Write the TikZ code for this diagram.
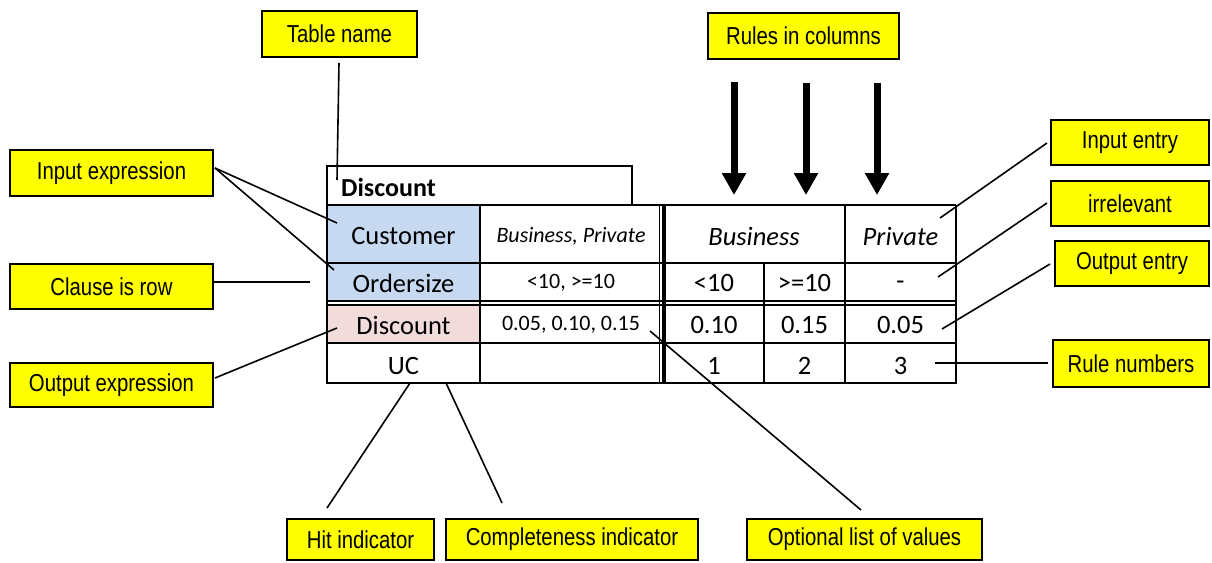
\documentclass[tikz,border=0pt]{standalone}
\usepackage{fontspec}
\setmainfont{Carlito}
\newfontfamily\narrowfont[FakeStretch=0.83]{Liberation Sans}
\usetikzlibrary{arrows.meta}
\definecolor{lblyellow}{HTML}{FFFF00}
\definecolor{inblue}{HTML}{C6D9F1}
\definecolor{outpink}{HTML}{F2DCDB}
\tikzset{
  lbl/.style={draw=black, fill=lblyellow, line width=1.8pt, inner sep=0pt,
    font=\narrowfont\fontsize{24.5}{26}\selectfont},
  leader/.style={line width=1.6pt, black},
  grid/.style={line width=1.8pt, black},
  big/.style={inner sep=0pt, font=\fontsize{26.5}{28}\selectfont},
  small/.style={inner sep=0pt, font=\fontsize{22}{24}\selectfont},
  colarrow/.style={line width=7pt, -{Triangle[width=23pt,length=22pt]}},
}
\begin{document}
\begin{tikzpicture}[x=1pt,y=-1pt]
\useasboundingbox (0,0) rectangle (1212,562);
% fills
\fill[inblue] (327,205) rectangle (480,302);
\fill[outpink] (327,304) rectangle (480,343);
% name box
\draw[grid] (327,205) -- (327,166) -- (632,166) -- (632,205);
% table outline and grid
\draw[grid] (327,205) -- (956,205);
\draw[grid] (327,205) -- (327,383) -- (956,383) -- (956,205);
\draw[grid] (327,263) -- (956,263);
\draw[line width=1.4pt] (327,301) -- (956,301);
\draw[line width=1.4pt] (327,305) -- (956,305);
\draw[line width=2.6pt] (327,343) -- (956,343);
\draw[grid] (480,205) -- (480,383);
\draw[line width=1pt] (659,205) -- (659,383);
\draw[line width=3.4pt] (664,205) -- (664,383);
\draw[grid] (764,263) -- (764,383);
\draw[grid] (845,205) -- (845,383);
% table texts
\node[anchor=west, inner sep=0pt, font=\fontsize{26}{28}\selectfont\bfseries] (tblname) at (341,187) {Discount};
\node[big] (cust) at (403.5,236) {Customer};
\node[big] (ords) at (403.5,283) {Ordersize};
\node[big] (disc) at (403.5,325) {Discount};
\node[big] (uc) at (403.5,366) {UC};
\node[small] (custvals) at (571,236) {\itshape Business, Private};
\node[small] (ordvals) at (571,283) {<10, >=10};
\node[small] (discvals) at (571,325) {0.05, 0.10, 0.15};
\node[big] (bus) at (754,236) {\itshape Business};
\node[big] (priv) at (900.5,236) {\itshape Private};
\node[big] (lt) at (714,283) {<10};
\node[big] (ge) at (804.5,283) {>=10};
\node[big] (dash) at (900.5,285) {-};
\node[big] (o1) at (714,325) {0.10};
\node[big] (o2) at (804.5,325) {0.15};
\node[big] (o3) at (900.5,325) {0.05};
\node[big] (r1) at (714,366) {1};
\node[big] (r2) at (804.5,366) {2};
\node[big] (r3) at (900.5,366) {3};
% labels
\node[lbl, minimum width=155pt, minimum height=46pt] (tname) at (339.5,34) {Table name};
\node[lbl, minimum width=191pt, minimum height=46pt] (rules) at (803.5,36) {Rules in columns};
\node[lbl, minimum width=203pt, minimum height=46pt] (inexp) at (111.5,173) {Input expression};
\node[lbl, minimum width=203pt, minimum height=45pt] (clause) at (111.5,286.5) {Clause is row};
\node[lbl, minimum width=203pt, minimum height=44pt] (outexp) at (111.5,385) {Output expression};
\node[lbl, minimum width=158pt, minimum height=45pt] (inent) at (1130,142.5) {Input entry};
\node[lbl, minimum width=158pt, minimum height=45pt] (irr) at (1130,203.5) {irrelevant};
\node[lbl, minimum width=154pt, minimum height=45pt] (outent) at (1132,263.5) {Output entry};
\node[lbl, minimum width=156pt, minimum height=47pt] (rulenum) at (1131,363.5) {Rule numbers};
\node[lbl, minimum width=147pt, minimum height=41pt] (hit) at (360.5,539.5) {Hit indicator};
\node[lbl, minimum width=252pt, minimum height=41pt] (compl) at (572,539.5) {Completeness indicator};
\node[lbl, minimum width=235pt, minimum height=41pt] (optl) at (864.5,539.5) {Optional list of values};
% leader end points
\coordinate (tnS) at (339,63);
\coordinate (tnE) at (337,180);
\coordinate (ieS) at (215,168);
\coordinate (ieA) at (337,223);
\coordinate (ieB) at (334,270);
\coordinate (clE) at (310,282);
\coordinate (oeS) at (215,378);
\coordinate (oeE) at (337,328);
\coordinate (ientS) at (1047,143);
\coordinate (ientE) at (940,218);
\coordinate (irrS) at (1047,203);
\coordinate (irrE) at (938,277);
\coordinate (oentS) at (1050,264);
\coordinate (oentE) at (942,329);
\coordinate (rnS) at (1048,363);
\coordinate (rnE) at (935,363);
\coordinate (hitS) at (327,508);
\coordinate (hitE) at (410,383);
\coordinate (cmS) at (502,503);
\coordinate (cmE) at (446,383);
\coordinate (olS) at (861,510);
\coordinate (olE) at (650,331);
% leaders
\draw[leader] (tnS) -- (tnE);
\draw[leader] (ieS) -- (ieA);
\draw[leader] (ieS) -- (ieB);
\draw[leader] (clause.east |- clE) -- (clE);
\draw[leader] (oeS) -- (oeE);
\draw[leader] (ientS) -- (ientE);
\draw[leader] (irrS) -- (irrE);
\draw[leader] (oentS) -- (oentE);
\draw[leader] (rnS) -- (rnE);
\draw[leader] (hitS) -- (hitE);
\draw[leader] (cmS) -- (cmE);
\draw[leader] (olS) -- (olE);
% rule arrows
\coordinate (a1s) at (734,82);  \coordinate (a1e) at (734,195);
\coordinate (a2s) at (806,83);  \coordinate (a2e) at (806,195);
\coordinate (a3s) at (877,83);  \coordinate (a3e) at (877,195);
\draw[colarrow] (a1s) -- (a1e);
\draw[colarrow] (a2s) -- (a2e);
\draw[colarrow] (a3s) -- (a3e);
\end{tikzpicture}
\end{document}
